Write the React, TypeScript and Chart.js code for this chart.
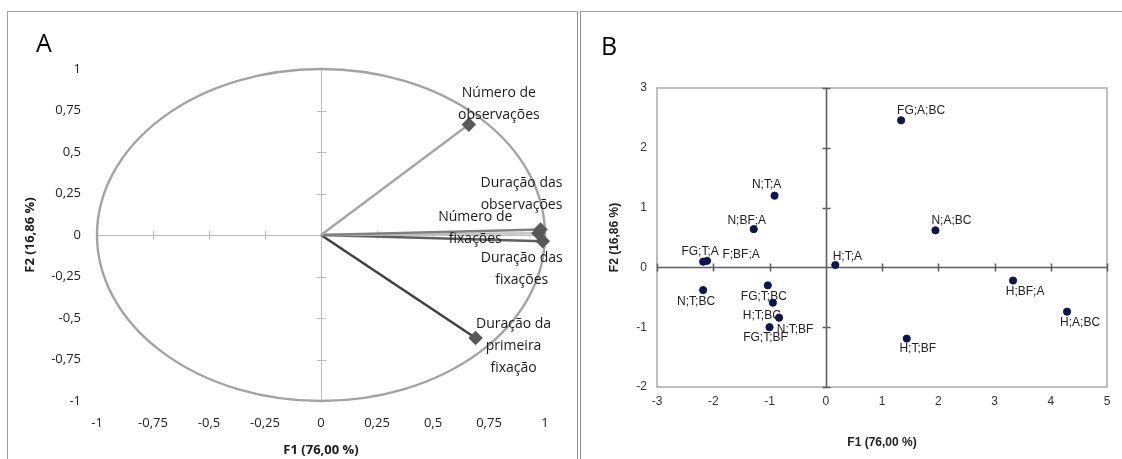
import React, { useEffect, useRef } from "react";
import { Chart, registerables } from "chart.js";
Chart.register(...registerables);

// ---------- Panel A data (correlation circle) ----------
const variableNames: string[][] = [
  ["Número de", "observações"],
  ["Duração das", "observações"],
  ["Número de", "fixações"],
  ["Duração das", "fixações"],
  ["Duração da", "primeira", "fixação"],
];
const variableF1 = [0.66, 0.98, 0.97, 0.99, 0.69];
const variableF2 = [0.665, 0.033, 0.01, -0.037, -0.62];
const loadingTicks = [-1, -0.75, -0.5, -0.25, 0, 0.25, 0.5, 0.75, 1];

// ---------- Panel B data (observations) ----------
const obsNames = [
  "FG;A;BC", "N;T;A", "N;BF;A", "N;A;BC", "FG;T;A", "F;BF;A", "H;T;A",
  "N;T;BC", "FG;T;BC", "H;T;BC", "N;T;BF", "FG;T;BF", "H;BF;A", "H;A;BC", "H;T;BF",
];
const obsF1 = [1.34, -0.91, -1.28, 1.95, -2.18, -2.11, 0.17, -2.18, -1.03, -0.94, -0.83, -1.0, 3.33, 4.29, 1.44];
const obsF2 = [2.46, 1.2, 0.64, 0.62, 0.095, 0.11, 0.04, -0.38, -0.3, -0.59, -0.84, -1.0, -0.22, -0.74, -1.19];
const scoreTicksX = [-3, -2, -1, 0, 1, 2, 3, 4, 5];
const scoreTicksY = [-2, -1, 0, 1, 2, 3];

const axisTitleX = "F1 (76,00 %)";
const axisTitleY = "F2 (16,86 %)";

// ---------- styles ----------
const vectorColors = ["#a6a6a6", "#808080", "#c4c4c4", "#5f5f5f", "#404040"];
const vectorLabelOffsets = [
  [30, -21],
  [-19, -36],
  [-63, -5],
  [-21, 28],
  [38, 8],
];
const obsLabelOffsets = [
  [20, -10], [-8, -11], [-7, -8], [16, -10], [-3, -10], [34, -6], [12, -8],
  [-7, 12], [-4, 11], [-11, 13], [16, 12], [-4, 10], [12, 11], [13, 11], [11, 10],
];

const fontA = "'Open Sans', 'Noto Sans', sans-serif";
const fontB = "'Liberation Sans', Arial, sans-serif";
const fmt = (v: number) => String(v).replace(".", ",");

function fixTicks(values: number[]) {
  return (scale: any) => {
    scale.ticks = values.map((v) => ({ value: v }));
  };
}

const circlePlugin = {
  id: "circleAxes",
  beforeDatasetsDraw(chart: any) {
    const { ctx } = chart;
    const x = chart.scales.x;
    const y = chart.scales.y;
    const x0 = x.getPixelForValue(0);
    const y0 = y.getPixelForValue(0);
    ctx.save();
    ctx.strokeStyle = "#bababa";
    ctx.lineWidth = 1;
    ctx.beginPath();
    ctx.moveTo(x.getPixelForValue(-1), Math.round(y0) + 0.5);
    ctx.lineTo(x.getPixelForValue(1), Math.round(y0) + 0.5);
    ctx.moveTo(Math.round(x0) + 0.5, y.getPixelForValue(1));
    ctx.lineTo(Math.round(x0) + 0.5, y.getPixelForValue(-1));
    loadingTicks.forEach((v) => {
      if (v === 0) return;
      const px = Math.round(x.getPixelForValue(v)) + 0.5;
      ctx.moveTo(px, y0 - 4);
      ctx.lineTo(px, y0 + 4);
      const py = Math.round(y.getPixelForValue(v)) + 0.5;
      ctx.moveTo(x0 - 4, py);
      ctx.lineTo(x0 + 5, py);
    });
    ctx.stroke();
    const rx = x.getPixelForValue(1) - x0;
    const ry = y0 - y.getPixelForValue(1);
    ctx.strokeStyle = "#a3a3a3";
    ctx.lineWidth = 2.4;
    ctx.beginPath();
    ctx.ellipse(x0, y0, rx, ry, 0, 0, Math.PI * 2);
    ctx.stroke();
    ctx.restore();
  },
  afterDatasetsDraw(chart: any) {
    const { ctx } = chart;
    const x = chart.scales.x;
    const y = chart.scales.y;
    ctx.save();
    ctx.font = `14px ${fontA}`;
    ctx.fillStyle = "#1a1a1a";
    ctx.textAlign = "center";
    ctx.textBaseline = "middle";
    const lh = 22;
    variableNames.forEach((lines, i) => {
      const px = x.getPixelForValue(variableF1[i]) + vectorLabelOffsets[i][0];
      const py = y.getPixelForValue(variableF2[i]) + vectorLabelOffsets[i][1];
      const start = py - ((lines.length - 1) * lh) / 2;
      lines.forEach((t, k) => ctx.fillText(t, px, start + k * lh));
    });
    ctx.restore();
  },
};

const scorePlugin = {
  id: "scoreAxes",
  beforeDatasetsDraw(chart: any) {
    const { ctx, chartArea } = chart;
    const x = chart.scales.x;
    const y = chart.scales.y;
    const x0 = Math.round(x.getPixelForValue(0)) + 0.5;
    const y0 = Math.round(y.getPixelForValue(0)) + 0.5;
    ctx.save();
    ctx.strokeStyle = "#ababab";
    ctx.lineWidth = 1.5;
    ctx.strokeRect(chartArea.left, chartArea.top, chartArea.right - chartArea.left, chartArea.bottom - chartArea.top);
    ctx.strokeStyle = "#5e5e5e";
    ctx.lineWidth = 1.6;
    ctx.beginPath();
    ctx.moveTo(chartArea.left, y0);
    ctx.lineTo(chartArea.right, y0);
    ctx.moveTo(x0, chartArea.top);
    ctx.lineTo(x0, chartArea.bottom);
    scoreTicksX.forEach((v) => {
      const px = Math.round(x.getPixelForValue(v)) + 0.5;
      ctx.moveTo(px, y0 - 4);
      ctx.lineTo(px, y0 + 4);
    });
    scoreTicksY.forEach((v) => {
      const py = Math.round(y.getPixelForValue(v)) + 0.5;
      ctx.moveTo(x0 - 4, py);
      ctx.lineTo(x0 + 4, py);
    });
    ctx.stroke();
    ctx.restore();
  },
  afterDatasetsDraw(chart: any) {
    const { ctx } = chart;
    const x = chart.scales.x;
    const y = chart.scales.y;
    ctx.save();
    ctx.font = `12px ${fontB}`;
    ctx.fillStyle = "#222";
    ctx.textAlign = "center";
    ctx.textBaseline = "middle";
    obsNames.forEach((t, i) => {
      const px = x.getPixelForValue(obsF1[i]) + obsLabelOffsets[i][0];
      const py = y.getPixelForValue(obsF2[i]) + obsLabelOffsets[i][1];
      ctx.fillText(t, px, py);
    });
    ctx.restore();
  },
};

function PanelA() {
  const ref = useRef<HTMLCanvasElement>(null);
  useEffect(() => {
    const W = 580, H = 459;
    const chart = new Chart(ref.current!, {
      type: "scatter",
      data: {
        datasets: variableNames.map((_, i) => ({
          data: [
            { x: 0, y: 0 },
            { x: variableF1[i], y: variableF2[i] },
          ],
          showLine: true,
          borderColor: vectorColors[i],
          borderWidth: 2.5,
          pointStyle: "rectRot",
          pointRadius: (c: any) => (c.dataIndex === 1 ? 5.5 : 0),
          pointBackgroundColor: "#595959",
          pointBorderColor: "#595959",
          clip: false,
        })),
      },
      options: {
        responsive: false,
        animation: false,
        events: [],
        layout: { padding: { left: 0, top: 69, right: W - 545, bottom: 0 } },
        plugins: { legend: { display: false }, tooltip: { enabled: false } },
        scales: {
          x: {
            type: "linear",
            min: -1,
            max: 1,
            afterBuildTicks: fixTicks(loadingTicks),
            afterFit: (s: any) => { s.height = H - 401; },
            grid: { display: false, drawTicks: false },
            border: { display: false },
            ticks: { padding: 14, color: "#222", font: { family: fontA, size: 13 }, callback: (v: any) => fmt(v) },
            title: { display: true, text: axisTitleX, color: "#1a1a1a", font: { family: fontA, size: 13, weight: "bold" }, padding: { top: 0, bottom: 1 } },
          },
          y: {
            type: "linear",
            min: -1,
            max: 1,
            afterBuildTicks: fixTicks(loadingTicks),
            afterFit: (s: any) => { s.width = 97; },
            grid: { display: false, drawTicks: false },
            border: { display: false },
            ticks: { padding: 16, color: "#222", font: { family: fontA, size: 13 }, callback: (v: any) => fmt(v) },
            title: { display: true, text: axisTitleY, color: "#1a1a1a", font: { family: fontA, size: 13, weight: "bold" }, padding: { top: 22, bottom: 0 } },
          },
        },
      },
      plugins: [circlePlugin],
    } as any);
    return () => chart.destroy();
  }, []);
  return <canvas ref={ref} width={580} height={459} style={{ position: "absolute", left: 0, top: 0, width: 580, height: 459 }} />;
}

function PanelB() {
  const ref = useRef<HTMLCanvasElement>(null);
  useEffect(() => {
    const W = 542, H = 459;
    const chart = new Chart(ref.current!, {
      type: "scatter",
      data: {
        datasets: [
          {
            data: obsF1.map((v, i) => ({ x: v, y: obsF2[i] })),
            pointRadius: 3.6,
            pointBackgroundColor: "#0b1650",
            pointBorderColor: "#0b1650",
            clip: false,
          },
        ],
      },
      options: {
        responsive: false,
        animation: false,
        events: [],
        layout: { padding: { left: 0, top: 88, right: W - 527, bottom: 0 } },
        plugins: { legend: { display: false }, tooltip: { enabled: false } },
        scales: {
          x: {
            type: "linear",
            min: -3,
            max: 5,
            afterBuildTicks: fixTicks(scoreTicksX),
            afterFit: (s: any) => { s.height = H - 387; },
            grid: { display: false, drawTicks: false },
            border: { display: false },
            ticks: { padding: 7, color: "#333", font: { family: fontB, size: 12 } },
            title: { display: true, text: axisTitleX, color: "#222", font: { family: fontB, size: 12, weight: "bold" }, padding: { top: 0, bottom: 9 } },
          },
          y: {
            type: "linear",
            min: -2,
            max: 3,
            afterBuildTicks: fixTicks(scoreTicksY),
            afterFit: (s: any) => { s.width = 77; },
            grid: { display: false, drawTicks: false },
            border: { display: false },
            ticks: { padding: 10, color: "#333", font: { family: fontB, size: 12 } },
            title: { display: true, text: axisTitleY, color: "#222", font: { family: fontB, size: 12, weight: "bold" }, padding: { top: 27, bottom: 0 } },
          },
        },
      },
      plugins: [scorePlugin],
    } as any);
    return () => chart.destroy();
  }, []);
  return <canvas ref={ref} width={542} height={459} style={{ position: "absolute", left: 580, top: 0, width: 542, height: 459 }} />;
}

export default function App() {
  return (
    <div style={{ position: "absolute", left: 0, top: 0, width: 1122, height: 459, overflow: "hidden", background: "#fff" }}>
      <div style={{ position: "absolute", left: 7, top: 11, width: 569, height: 500, borderTop: "1px solid #a0a0a0", borderLeft: "1px solid #a0a0a0", borderRight: "1.5px solid #8c8c8c" }} />
      <div style={{ position: "absolute", left: 580, top: 11, width: 600, height: 500, borderTop: "1px solid #a0a0a0", borderLeft: "1.5px solid #8c8c8c" }} />
      <PanelA />
      <PanelB />
      <div style={{ position: "absolute", left: 36, top: 25, fontFamily: fontA, fontSize: 25, color: "#000", lineHeight: "34px" }}>A</div>
      <div style={{ position: "absolute", left: 601, top: 28, fontFamily: fontA, fontSize: 25, color: "#000", lineHeight: "34px" }}>B</div>
    </div>
  );
}
